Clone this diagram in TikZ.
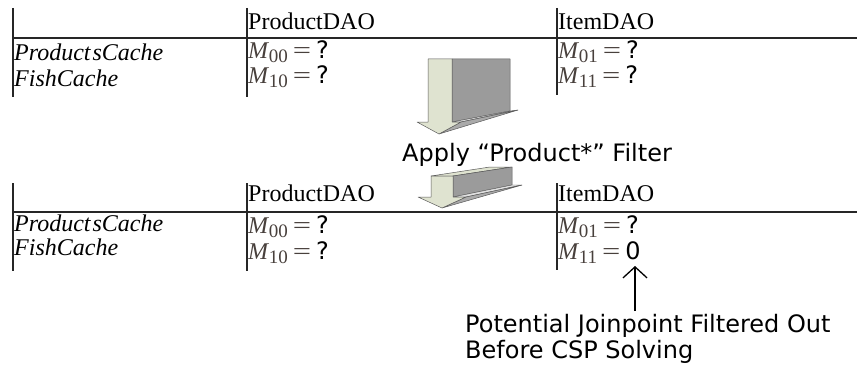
\documentclass[tikz,border=0pt]{standalone}
\usepackage{fontspec}
\usepackage{graphicx}
\setmainfont{Liberation Serif}
\newfontfamily\vsans{DejaVu Sans}
\usetikzlibrary{arrows.meta}
\definecolor{mgray}{RGB}{72,64,60}
\definecolor{facelight}{RGB}{223,227,208}
\definecolor{sidegray}{RGB}{155,155,155}
\definecolor{headgray}{RGB}{170,170,170}
\definecolor{striplight}{RGB}{225,225,225}
\definecolor{edgegray}{RGB}{90,90,90}
% an entry M_{ij} = value
\newcommand\mentry[2]{{\color{mgray}\textit{M}\kern-0.5pt\raisebox{-4pt}{\fontsize{19}{20}\selectfont #1}\kern5pt\scalebox{1.35}[1]{=}}\kern5pt{\vsans\fontsize{24}{26}\selectfont #2}}
\begin{document}
\begin{tikzpicture}[x=1pt,y=-1pt,
  rule/.style={line width=1.6pt,black!85},
  cell/.style={anchor=base west,inner sep=0pt,font=\fontsize{24}{26}\selectfont},
  rowlbl/.style={cell,font=\fontsize{24}{26}\selectfont\itshape},
  sanslbl/.style={anchor=base west,inner sep=0pt,font=\vsans\fontsize{24}{26}\selectfont},
  face/.style={fill=facelight,draw=edgegray,line width=0.5pt,line join=round},
  side/.style={fill=sidegray,draw=edgegray,line width=0.5pt,line join=round},
  headside/.style={fill=headgray,draw=edgegray,line width=0.5pt,line join=round},
  strip/.style={fill=striplight,draw=edgegray,line width=0.4pt,line join=round},
  uparrow/.style={line width=1.3pt,-{Straight Barb[length=11pt,width=24pt,line width=1.3pt]}}]
\useasboundingbox (0,0) rectangle (857,369);

% ---- table before filtering ----
\draw[rule] (13,8) -- (13,97);
\draw[rule] (247,8) -- (247,97);
\draw[rule] (557,8) -- (557,95);
\draw[rule] (13,38) -- (857,38);
\node[cell] (h1a) at (248,30) {ProductDAO};
\node[cell] (h1b) at (558,30) {ItemDAO};
\node[rowlbl] (r1a) at (14,61) {Product\kern2pt sCache};
\node[rowlbl] (r1b) at (14,86) {FishCache};
\node[cell] (m1a) at (248,59) {\mentry{00}{?}};
\node[cell] (m1b) at (558,59) {\mentry{01}{?}};
\node[cell] (m1c) at (248,84) {\mentry{10}{?}};
\node[cell] (m1d) at (558,84) {\mentry{11}{?}};

% ---- large block arrow ----
\path[side] (452,59) -- (510,59) -- (510,111) -- (452,122) -- cycle;
\path[strip] (452,122) -- (510,111) -- (518,110) -- (461,122) -- cycle;
\path[headside] (461,122) -- (518,110) -- (439,134) -- cycle;
\path[face] (428,59) -- (452,59) -- (452,122) -- (461,122) -- (439,134)
  -- (417,122) -- (428,122) -- cycle;

\node[sanslbl] (apply) at (402,161) {Apply “Product*” Filter};

% ---- small block arrow ----
\path[face] (431,176) -- (490,167) -- (512,167) -- (453,176) -- cycle;
\path[side] (453,176) -- (512,167) -- (512,185) -- (453,197) -- cycle;
\path[strip] (453,197) -- (512,185) -- (522,185) -- (466,197) -- cycle;
\path[headside] (466,197) -- (522,185) -- (442,208) -- cycle;
\path[face] (431,176) -- (453,176) -- (453,197) -- (466,197) -- (442,208)
  -- (418,197) -- (431,197) -- cycle;

% ---- table after filtering ----
\draw[rule] (13,183) -- (13,271);
\draw[rule] (247,183) -- (247,271);
\draw[rule] (557,183) -- (557,270);
\draw[rule] (13,212) -- (857,212);
\node[cell] (h2a) at (248,201) {ProductDAO};
\node[cell] (h2b) at (558,201) {ItemDAO};
\node[rowlbl] (r2a) at (14,231) {Product\kern2pt sCache};
\node[rowlbl] (r2b) at (14,255) {FishCache};
\node[cell] (m2a) at (248,233) {\mentry{00}{?}};
\node[cell] (m2b) at (558,233) {\mentry{01}{?}};
\node[cell] (m2c) at (248,259) {\mentry{10}{?}};
\node[cell] (m2d) at (558,259) {\mentry{11}{0}};
\coordinate (zero) at (635,266);

% ---- note on the filtered entry ----
\node[sanslbl] (note1) at (465,332) {Potential Joinpoint Filtered Out};
\node[sanslbl] (note2) at (465,358) {Before CSP Solving};
\coordinate (tail) at (635,311);
\draw[uparrow] (tail) -- (zero);
\end{tikzpicture}
\end{document}
